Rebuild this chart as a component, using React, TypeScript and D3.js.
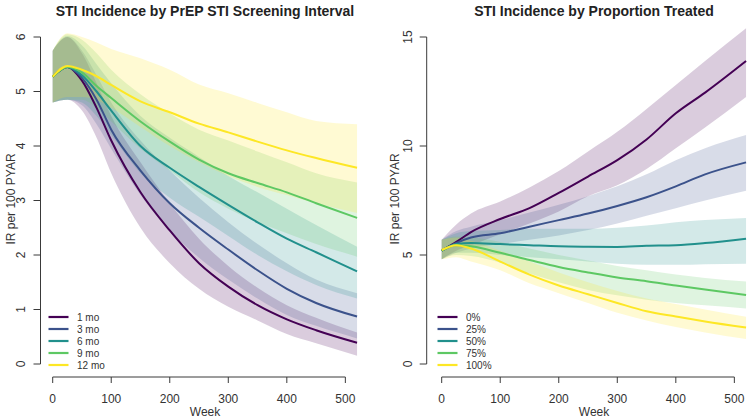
import React from "react";
import * as d3 from "d3";

// ---------- Left panel: screening interval ----------
const WEEKS_L = [0, 25, 50, 75, 100, 150, 200, 250, 300, 350, 400, 450, 520];
const LABELS_L = ["1 mo", "3 mo", "6 mo", "9 mo", "12 mo"];
const MID_L = [
  [5.27, 5.45, 5.2, 4.7, 4.1, 3.15, 2.45, 1.85, 1.42, 1.08, 0.82, 0.62, 0.39],
  [5.27, 5.45, 5.25, 4.85, 4.3, 3.55, 2.95, 2.5, 2.1, 1.72, 1.38, 1.12, 0.87],
  [5.27, 5.45, 5.3, 5.0, 4.65, 4.0, 3.6, 3.25, 2.92, 2.6, 2.3, 2.05, 1.7],
  [5.27, 5.45, 5.35, 5.1, 4.88, 4.45, 4.08, 3.75, 3.5, 3.32, 3.15, 2.95, 2.68],
  [5.27, 5.47, 5.4, 5.28, 5.12, 4.82, 4.62, 4.41, 4.25, 4.08, 3.92, 3.78, 3.6],
];
const LO_L = [
  [4.8, 4.85, 4.65, 4.15, 3.5, 2.5, 1.85, 1.38, 1.05, 0.8, 0.55, 0.38, 0.15],
  [4.8, 4.85, 4.75, 4.4, 3.95, 3.1, 2.45, 1.95, 1.55, 1.2, 0.9, 0.7, 0.47],
  [4.8, 4.85, 4.8, 4.55, 4.2, 3.5, 3.05, 2.7, 2.35, 2.0, 1.7, 1.45, 1.2],
  [4.8, 4.85, 4.85, 4.7, 4.45, 3.95, 3.55, 3.15, 2.85, 2.6, 2.4, 2.2, 1.97],
  [4.8, 4.9, 4.9, 4.85, 4.7, 4.35, 4.0, 3.7, 3.45, 3.25, 3.1, 2.95, 2.77],
];
const HI_L = [
  [5.75, 6.0, 5.7, 5.15, 4.55, 3.7, 2.95, 2.3, 1.8, 1.4, 1.08, 0.85, 0.58],
  [5.75, 6.0, 5.75, 5.3, 4.8, 4.1, 3.55, 3.05, 2.6, 2.2, 1.85, 1.55, 1.3],
  [5.75, 6.02, 5.85, 5.5, 5.15, 4.55, 4.15, 3.8, 3.45, 3.15, 2.85, 2.55, 2.15],
  [5.75, 6.05, 5.95, 5.7, 5.4, 4.95, 4.6, 4.3, 4.1, 3.9, 3.7, 3.5, 3.33],
  [5.75, 6.07, 6.0, 5.9, 5.78, 5.61, 5.4, 5.13, 4.97, 4.79, 4.62, 4.46, 4.4],
];

// ---------- Right panel: proportion treated ----------
const WEEKS_R = [0, 25, 50, 100, 150, 200, 250, 300, 350, 400, 450, 520];
const LABELS_R = ["0%", "25%", "50%", "75%", "100%"];
const MID_R = [
  [5.2, 5.6, 6.05, 6.65, 7.15, 7.85, 8.6, 9.35, 10.3, 11.5, 12.45, 13.9],
  [5.2, 5.55, 5.8, 6.0, 6.3, 6.6, 6.9, 7.25, 7.65, 8.15, 8.7, 9.25],
  [5.2, 5.5, 5.55, 5.5, 5.45, 5.4, 5.38, 5.37, 5.42, 5.45, 5.55, 5.75],
  [5.2, 5.45, 5.4, 5.1, 4.77, 4.45, 4.2, 3.97, 3.8, 3.6, 3.42, 3.17],
  [5.23, 5.45, 5.3, 4.7, 4.1, 3.6, 3.2, 2.8, 2.42, 2.18, 1.95, 1.67],
];
const LO_R = [
  [4.8, 5.2, 5.45, 5.95, 6.45, 7.0, 7.7, 8.2, 8.95, 9.9, 10.85, 12.25],
  [4.8, 5.1, 5.3, 5.5, 5.7, 5.9, 6.15, 6.45, 6.8, 7.15, 7.5, 7.95],
  [4.8, 5.1, 5.1, 5.0, 4.9, 4.8, 4.7, 4.6, 4.55, 4.55, 4.58, 4.6],
  [4.8, 5.0, 4.95, 4.65, 4.15, 3.75, 3.4, 3.15, 2.95, 2.8, 2.7, 2.55],
  [4.8, 4.9, 4.7, 4.3, 3.7, 3.25, 2.8, 2.35, 2.0, 1.7, 1.45, 1.15],
];
const HI_R = [
  [5.7, 6.4, 6.9, 7.45, 8.1, 8.85, 9.75, 10.65, 11.7, 12.8, 13.9, 15.4],
  [5.7, 6.1, 6.3, 6.6, 6.95, 7.3, 7.7, 8.15, 8.7, 9.35, 9.9, 10.5],
  [5.7, 6.0, 6.1, 6.15, 6.2, 6.2, 6.2, 6.25, 6.35, 6.5, 6.6, 6.7],
  [5.7, 5.85, 5.8, 5.6, 5.3, 5.0, 4.75, 4.5, 4.3, 4.1, 3.95, 3.78],
  [5.7, 5.8, 5.65, 5.2, 4.7, 4.2, 3.75, 3.35, 3.0, 2.75, 2.5, 2.17],
];

const X_TICKS = [0, 100, 200, 300, 400, 500];
const Y_TICKS_L = [0, 1, 2, 3, 4, 5, 6];
const Y_TICKS_R = [0, 5, 10, 15];
const TITLE_L = "STI Incidence by PrEP STI Screening Interval";
const TITLE_R = "STI Incidence by Proportion Treated";

const COLORS = ["#440154", "#3B528B", "#21908C", "#5DC863", "#FDE725"];
const FONT = "'Liberation Sans', Arial, Helvetica, sans-serif";
const AXIS = "#3a3a3a";

type PanelProps = {
  weeks: number[];
  mid: number[][];
  lo: number[][];
  hi: number[][];
  labels: string[];
  yTicks: number[];
  yMax: number;
  x0: number;
  yAxisX: number;
  title: string;
  titleX: number;
  yLabelX: number;
  tickLabelX: number;
  legendX: number;
};

function Panel(p: PanelProps) {
  const x = d3.scaleLinear().domain([0, 500]).range([p.x0, p.x0 + 292.65]);
  const y = d3.scaleLinear().domain([0, p.yMax]).range([364, 37]);
  const area = d3
    .area<number>()
    .x((_, i) => x(p.weeks[i]))
    .curve(d3.curveMonotoneX);
  const line = d3
    .line<number>()
    .x((_, i) => x(p.weeks[i]))
    .y((d) => y(d))
    .curve(d3.curveMonotoneX);
  const axisY = 377;
  return (
    <g>
      {p.mid.map((_, s) => {
        const a = area
          .y0((_d, i) => y(p.lo[s][i]))
          .y1((_d, i) => y(p.hi[s][i]));
        return (
          <path
            key={"b" + s}
            d={a(p.mid[s]) || ""}
            fill={COLORS[s]}
            fillOpacity={0.2}
            stroke="none"
          />
        );
      })}
      {p.mid.map((m, s) => (
        <path
          key={"l" + s}
          d={line(m) || ""}
          fill="none"
          stroke={COLORS[s]}
          strokeWidth={2}
        />
      ))}
      <line
        x1={p.yAxisX}
        x2={p.yAxisX}
        y1={y(p.yTicks[0])}
        y2={y(p.yTicks[p.yTicks.length - 1])}
        stroke={AXIS}
        strokeWidth={1}
      />
      {p.yTicks.map((t) => (
        <g key={"yt" + t}>
          <line
            x1={p.yAxisX - 7}
            x2={p.yAxisX}
            y1={y(t)}
            y2={y(t)}
            stroke={AXIS}
          />
          <text
            transform={`translate(${p.tickLabelX},${y(t)}) rotate(-90)`}
            textAnchor="middle"
            dominantBaseline="central"
            fontSize={12}
            fontFamily={FONT}
            fill="#333"
          >
            {t}
          </text>
        </g>
      ))}
      <line
        x1={x(0)}
        x2={x(500)}
        y1={axisY}
        y2={axisY}
        stroke={AXIS}
        strokeWidth={1}
      />
      {X_TICKS.map((t) => (
        <g key={"xt" + t}>
          <line x1={x(t)} x2={x(t)} y1={axisY} y2={axisY + 6} stroke={AXIS} />
          <text
            x={x(t)}
            y={402.5}
            textAnchor="middle"
            fontSize={12}
            fontFamily={FONT}
            fill="#333"
          >
            {t}
          </text>
        </g>
      ))}
      <text
        x={(x(0) + x(500)) / 2 + 6}
        y={415.5}
        textAnchor="middle"
        fontSize={12}
        fontFamily={FONT}
        fill="#333"
      >
        Week
      </text>
      <text
        transform={`translate(${p.yLabelX},199) rotate(-90)`}
        textAnchor="middle"
        dominantBaseline="central"
        fontSize={12}
        fontFamily={FONT}
        fill="#333"
      >
        IR per 100 PYAR
      </text>
      <text
        x={p.titleX}
        y={15.5}
        textAnchor="middle"
        fontSize={14}
        fontWeight="bold"
        fontFamily={FONT}
        fill="#222"
      >
        {p.title}
      </text>
      {p.labels.map((lab, i) => (
        <g key={"lg" + i}>
          <line
            x1={p.legendX}
            x2={p.legendX + 20}
            y1={317 + i * 12}
            y2={317 + i * 12}
            stroke={COLORS[i]}
            strokeWidth={2.2}
          />
          <text
            x={p.legendX + 28.5}
            y={317 + i * 12}
            dominantBaseline="central"
            fontSize={10}
            fontFamily={FONT}
            fill="#333"
          >
            {lab}
          </text>
        </g>
      ))}
    </g>
  );
}

export default function App() {
  return (
    <svg
      width={750}
      height={418}
      style={{ position: "absolute", left: 0, top: 0, background: "#fff" }}
    >
      <rect width={750} height={418} fill="#fff" />
      <Panel
        weeks={WEEKS_L}
        mid={MID_L}
        lo={LO_L}
        hi={HI_L}
        labels={LABELS_L}
        yTicks={Y_TICKS_L}
        yMax={6}
        x0={52.7}
        yAxisX={40.5}
        title={TITLE_L}
        titleX={205}
        yLabelX={11}
        tickLabelX={21}
        legendX={48.5}
      />
      <Panel
        weeks={WEEKS_R}
        mid={MID_R}
        lo={LO_R}
        hi={HI_R}
        labels={LABELS_R}
        yTicks={Y_TICKS_R}
        yMax={15}
        x0={441.7}
        yAxisX={426.7}
        title={TITLE_R}
        titleX={594}
        yLabelX={395}
        tickLabelX={408}
        legendX={437.5}
      />
    </svg>
  );
}
